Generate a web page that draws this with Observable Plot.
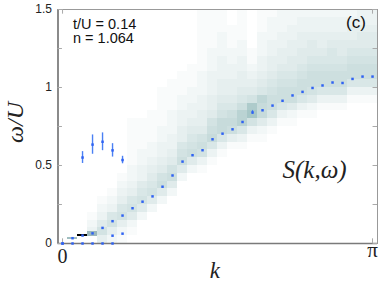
<!DOCTYPE html>
<html>
<head>
<meta charset="utf-8">
<script src="https://cdn.jsdelivr.net/npm/d3@7"></script>
<script src="https://cdn.jsdelivr.net/npm/@observablehq/plot@0.6"></script>
<style>
  html, body { margin: 0; padding: 0; background: #fff; }
  #chart svg { display: block; }
</style>
</head>
<body>
<div id="chart"></div>
<script>
// ---- data ----
// momentum index n, k = n*pi/31
const kSteps = [0,1,2,3,4,5,6,7,8,9,10,11,12,13,14,15,16,17,18,19,20,21,22,23,24,25,26,27,28,29,30,31];
// main dispersion (omega/U) per k
const dispersion = [0, 0.034, 0.051, 0.065, 0.100, 0.143, 0.179, 0.226, 0.268, 0.302, 0.364, 0.436,
  0.525, 0.566, 0.598, 0.668, 0.704, 0.732, 0.779, 0.840, 0.854, 0.884, 0.915, 0.949,
  0.972, 0.997, 1.013, 1.032, 1.029, 1.055, 1.070, 1.070];
const dispersionErr = [0,0,0,0,0,0,0,0,0,0,0,0,0,0,0,0,0,0,0,0.013,0,0,0,0,0,0,0,0,0,0,0,0];
// zero-energy branch
const zeroBranchSteps = [0,1,2,3,4,5];
const zeroBranch = [0,0,0,0,0,0];
// low branch
const lowBranchSteps = [5,6];
const lowBranch = [0.050, 0.063];
// upper branch with error bars
const upperSteps = [2,3,4,5,6];
const upperOmega = [0.551, 0.634, 0.652, 0.597, 0.535];
const upperErr = [0.038, 0.062, 0.057, 0.043, 0.024];

// spectral weight S(k,omega): omega bins of 0.05, hex intensity per bin starting at bin index
const omegaStep = 0.05;
const spectralStart = [0,0,0,1,0,0,0,1,3,4,5,6,8,9,9,10,11,12,12,13,13,14,15,15,16,16,17,17,17,18,18,18];
const spectralValues = [
  "", "", "", "321", "475321", "2476321", "124764321",
  "125764322111111", "2576533221111", "2576543221111", "258754332211111",
  "258754332221111", "25876443322111", "25876543322111",
  "137875443322211111111", "13698754433322211111", "1369976544333222111",
  "1489865443322111", "136bb8654433221111", "137ed7543211", "12599a65433222111",
  "1368876544332221", "136887654433222", "125887655443322", "13688765544332",
  "12578876554332", "1368876544332", "1368876654332", "1368876554332",
  "136887654432", "136887655433", "136887655433"
];
// sharp low-energy features: k index, omega range, weight
const sharpSteps = [1, 2, 3];
const sharpLow = [0.027, 0.045, 0.045];
const sharpHigh = [0.040, 0.057, 0.078];
const sharpWeight = [0.28, 1.0, 0.30];

const yTickValues = [0, 0.25, 0.5, 0.75, 1, 1.25, 1.5];
const yLabelValues = [0, 0.5, 1, 1.5];
const yLabelText = ["0", "0.5", "1", "1.5"];
const xTickValues = [0, Math.PI];

// ---- build ----
const dk = Math.PI / 31;
const kOf = n => n * dk;
const xDomain = [-0.046, 3.192];
const yDomain = [0, 1.5];

const bone = d3.scaleLinear()
  .domain([0, 0.254, 0.635, 1])
  .range(["#ffffff", "#a6c6c6", "#515171", "#000000"])
  .clamp(true);

const cells = [];
spectralValues.forEach((s, n) => {
  for (let i = 0; i < s.length; i++) {
    const v = parseInt(s[i], 16);
    const j = spectralStart[n] + i;
    if (v > 0 && j < 30) {
      cells.push({
        x1: Math.max(xDomain[0], kOf(n) - dk / 2), x2: kOf(n) + dk / 2,
        y1: j * omegaStep, y2: (j + 1) * omegaStep, c: bone(v / 56)
      });
    }
  }
});
const sharpCells = sharpSteps.map((n, i) => ({
  x1: kOf(n) - dk / 2, x2: kOf(n) + dk / 2, y1: sharpLow[i], y2: sharpHigh[i], c: bone(sharpWeight[i])
}));

const mainPts = kSteps.map((n, i) => ({k: kOf(n), w: dispersion[i], e: dispersionErr[i]}));
const zeroPts = zeroBranchSteps.map((n, i) => ({k: kOf(n), w: zeroBranch[i]}));
const lowPts = lowBranchSteps.map((n, i) => ({k: kOf(n), w: lowBranch[i]}));
const upPts = upperSteps.map((n, i) => ({k: kOf(n), w: upperOmega[i], e: upperErr[i]}));

const blue = "#2f62f2";
const serif = "Liberation Serif, 'DejaVu Serif', serif";
const sans = "Liberation Sans, Arial, sans-serif";

const chart = Plot.plot({
  width: 382, height: 287,
  marginLeft: 57.5, marginRight: 5, marginTop: 9, marginBottom: 44,
  x: {domain: xDomain, axis: null},
  y: {domain: yDomain, axis: null},
  style: {background: "white", fontFamily: sans},
  marks: [
    Plot.rect(cells, {x1: "x1", x2: "x2", y1: "y1", y2: "y2", fill: "c", shapeRendering: "crispEdges"}),
    Plot.rect(sharpCells, {x1: "x1", x2: "x2", y1: "y1", y2: "y2", fill: "c", shapeRendering: "crispEdges"}),
    Plot.frame({stroke: "#999", strokeWidth: 1}),
    Plot.ruleX([xDomain[0]], {stroke: "#7a7a7a", strokeWidth: 1.6}),
    Plot.ruleY([yDomain[0]], {stroke: "#7a7a7a", strokeWidth: 1.6}),
    // ticks inside
    Plot.ruleY(yTickValues, {y: d => d, x1: xDomain[0], x2: xDomain[0] + 0.045, stroke: "#aaa"}),
    Plot.ruleY(yTickValues, {y: d => d, x1: xDomain[1] - 0.045, x2: xDomain[1], stroke: "#aaa"}),
    Plot.ruleX(xTickValues, {x: d => d, y1: 0, y2: 0.03, stroke: "#aaa"}),
    Plot.ruleX(xTickValues, {x: d => d, y1: 1.47, y2: 1.5, stroke: "#aaa"}),
    // tick labels
    Plot.text(yLabelValues, {y: d => d, text: (d, i) => yLabelText[i], frameAnchor: "left", dx: -6, textAnchor: "end", lineAnchor: "middle", fontSize: 12, fill: "#222"}),
    Plot.text([xTickValues[0]], {x: d => d, text: ["0"], frameAnchor: "bottom", dy: 13, textAnchor: "middle", lineAnchor: "middle", fontSize: 20, fontFamily: serif, fill: "#222"}),
    Plot.text([xTickValues[1]], {x: d => d, text: ["π"], frameAnchor: "bottom", dy: 7, textAnchor: "middle", lineAnchor: "middle", fontSize: 21, fontFamily: serif, fill: "#222"}),
    // axis labels
    Plot.text(["k"], {frameAnchor: "bottom", dx: -3, dy: 27, textAnchor: "middle", lineAnchor: "middle", fontSize: 23, fontFamily: serif, fontStyle: "italic", fill: "#222"}),
    Plot.text(["ω/U"], {frameAnchor: "left", dx: -43, dy: -4, rotate: -90, textAnchor: "middle", lineAnchor: "middle", fontSize: 24, fontFamily: serif, fontStyle: "italic", fill: "#222"}),
    // annotations
    Plot.text(["t/U = 0.14"], {frameAnchor: "top-left", dx: 15, dy: 14.5, textAnchor: "start", lineAnchor: "middle", fontSize: 14.5, fill: "#111"}),
    Plot.text(["n = 1.064"], {frameAnchor: "top-left", dx: 15, dy: 29, textAnchor: "start", lineAnchor: "middle", fontSize: 14.5, fill: "#111"}),
    Plot.text(["(c)"], {frameAnchor: "top-right", dx: -21.5, dy: 13.5, textAnchor: "middle", lineAnchor: "middle", fontSize: 17, fill: "#111"}),
    Plot.text(["S(k,ω)"], {frameAnchor: "right", dx: -95, dy: 43, textAnchor: "start", lineAnchor: "middle", fontSize: 25, fontFamily: serif, fontStyle: "italic", fill: "#222"}),
    // data points
    Plot.ruleX(upPts, {x: "k", y1: d => d.w - d.e, y2: d => d.w + d.e, stroke: "#4a80f4", strokeWidth: 1.4}),
    Plot.ruleX(mainPts.filter(d => d.e > 0), {x: "k", y1: d => d.w - d.e, y2: d => d.w + d.e, stroke: "#4a80f4", strokeWidth: 1.2}),
    Plot.dot(upPts, {x: "k", y: "w", symbol: "square", r: 1.4, fill: blue}),
    Plot.dot(mainPts, {x: "k", y: "w", symbol: "square", r: 1.4, fill: blue}),
    Plot.dot(zeroPts, {x: "k", y: "w", symbol: "square", r: 1.4, fill: blue}),
    Plot.dot(lowPts, {x: "k", y: "w", symbol: "square", r: 1.4, fill: blue})
  ]
});
document.getElementById("chart").append(chart);
</script>
</body>
</html>
